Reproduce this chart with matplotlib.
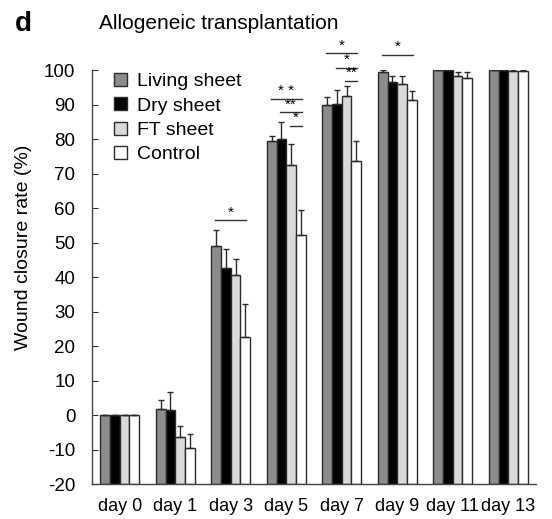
import numpy as np
import matplotlib
matplotlib.use('Agg')
import matplotlib.pyplot as plt

plt.rcParams['font.family'] = ['Liberation Sans', 'DejaVu Sans']
plt.rcParams['axes.unicode_minus'] = False

days = ['day 0', 'day 1', 'day 3', 'day 5', 'day 7', 'day 9', 'day 11', 'day 13']
groups = ['Living sheet', 'Dry sheet', 'FT sheet', 'Control']

living = [0, 1.8, 49.0, 79.5, 90.0, 99.5, 100.0, 100.0]
living_err = [0, 2.5, 4.5, 1.3, 2.2, 0.5, 0, 0]
dry = [0, 1.4, 42.5, 80.0, 90.2, 96.6, 100.0, 100.0]
dry_err = [0, 5.2, 5.5, 5.0, 4.0, 1.8, 0, 0]
ft = [0, -6.5, 40.7, 72.6, 92.4, 96.0, 98.2, 99.8]
ft_err = [0, 3.2, 4.5, 6.0, 2.9, 2.3, 1.2, 0.2]
control = [0, -9.7, 22.6, 52.2, 73.5, 91.4, 97.8, 99.8]
control_err = [0, 4.1, 9.6, 7.2, 5.8, 2.6, 1.6, 0.2]

colors = ['#8c8c8c', '#000000', '#d9d9d9', '#ffffff']

# (day index, from series, to series, line height, label)
sig = [
    (2, 0, 3, 56.5, '*'),
    (3, 0, 3, 91.6, '* *'),
    (3, 1, 3, 87.7, '**'),
    (3, 2, 3, 83.8, '*'),
    (4, 0, 3, 104.9, '*'),
    (4, 1, 3, 100.7, '*'),
    (4, 2, 3, 96.9, '**'),
    (5, 0, 3, 104.4, '*'),
]

values = [living, dry, ft, control]
errors = [living_err, dry_err, ft_err, control_err]

fig = plt.figure(figsize=(5.52, 5.19), dpi=100)
ax = fig.add_axes([0.1667, 0.0674, 0.8043, 0.7976])

x = np.arange(len(days))
width = 0.175
base = -20
offsets = (np.arange(4) - 1.5) * width

for i in range(4):
    v = np.array(values[i])
    e = np.array(errors[i])
    ax.bar(x + offsets[i], v - base, width, bottom=base, color=colors[i],
           edgecolor='#2b2b2b', linewidth=1.0, label=groups[i], zorder=2)
    ax.errorbar(x + offsets[i], v, yerr=[np.zeros_like(e), e], fmt='none',
                ecolor='#2b2b2b', elinewidth=1.0, capsize=2, capthick=1.0, zorder=3)

for d, a, b, yy, lab in sig:
    x0 = d + offsets[a]
    x1 = d + offsets[b]
    ax.plot([x0 - 0.02, x1 + 0.02], [yy, yy], color='#333333', lw=1.0, clip_on=False)
    ax.text((x0 + x1) / 2, yy + 0.2, lab, ha='center', va='bottom', fontsize=11,
            clip_on=False)

ax.set_xlim(-0.5, 7.5)
ax.set_ylim(-20, 100)
ax.set_yticks(np.arange(-20, 101, 10))
ax.set_xticks(x)
ax.set_xticklabels(days, fontsize=13)
ax.tick_params(axis='y', direction='in', length=4, labelsize=13.5, pad=12, color='#333333')
ax.tick_params(axis='x', length=0, pad=10)

for s in ['top', 'right']:
    ax.spines[s].set_visible(False)
for s in ['left', 'bottom']:
    ax.spines[s].set_color('#444444')
    ax.spines[s].set_linewidth(1.0)

ax.set_ylabel('Wound closure rate (%)', fontsize=14)
ax.yaxis.set_label_coords(-0.135, 0.572)

ax.legend(loc='upper left', bbox_to_anchor=(0.05, 0.993), frameon=False, fontsize=14,
          handlelength=0.65, handleheight=0.65, handletextpad=0.5,
          labelspacing=0.36, borderpad=0, borderaxespad=0)

fig.text(0.027, 0.953, 'd', fontsize=20, fontweight='bold', va='center')
fig.text(0.179, 0.955, 'Allogeneic transplantation', fontsize=15, va='center')

fig.savefig('out.png', dpi=100)
